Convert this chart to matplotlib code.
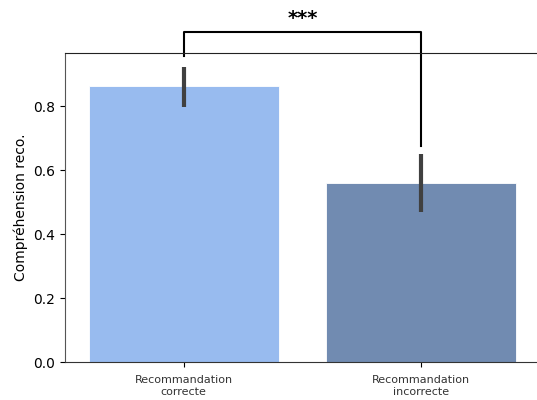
import matplotlib.pyplot as plt

# Données
categories = ["Recommandation\ncorrecte", "Recommandation\nincorrecte"]
means = [0.862, 0.559]
ci_low = [0.797, 0.469]
ci_high = [0.922, 0.650]
colors = ["#98bbef", "#718bb1"]

fig = plt.figure(figsize=(5.37, 4.0), dpi=100)
ax = fig.add_axes([0.121, 0.095, 0.885, 0.7725])

x = list(range(len(categories)))
ax.bar(x, means, width=0.8, color=colors, edgecolor="white", linewidth=0.6)
ax.vlines(x, ci_low, ci_high, color="#404040", linewidth=3)

ax.set_xlim(-0.5, 1.5)
ax.set_ylim(0, 0.966)
ax.set_xticks(x)
ax.set_xticklabels(categories, fontsize=8, color="#333333")
ax.tick_params(axis="x", pad=6)
ax.set_yticks([0, 0.2, 0.4, 0.6, 0.8])
ax.tick_params(axis="y", labelsize=10)
ax.set_ylabel("Compréhension reco.", fontsize=10)

ax.spines["right"].set_visible(False)
ax.spines["left"].set_color("#555555")
ax.spines["bottom"].set_color("#333333")
ax.spines["top"].set_color("#222222")

# Crochet de significativité
ax.plot([0, 0, 1, 1], [0.956, 1.031, 1.031, 0.675], color="black",
        linewidth=1.5, clip_on=False)
ax.text(0.5, 1.045, "***", ha="center", va="bottom", fontsize=14,
        fontweight="bold")

fig.savefig("out.png", dpi=100)
